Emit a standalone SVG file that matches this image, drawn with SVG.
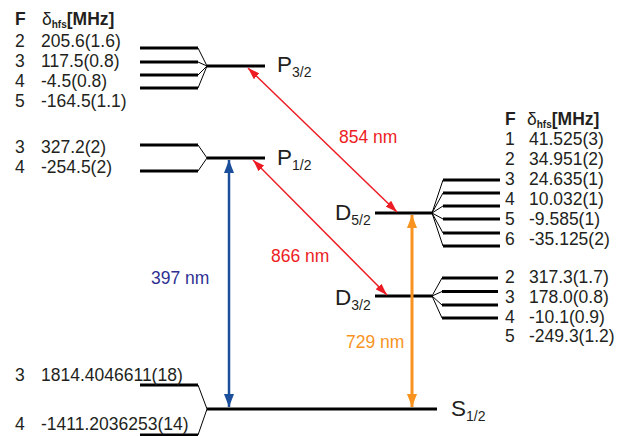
<svg xmlns="http://www.w3.org/2000/svg" width="623" height="436" viewBox="0 0 623 436">
<defs>
<style>
text{font-family:"Liberation Sans",Arial,sans-serif;fill:#231f20}
.t{font-size:17.5px}
.b{font-weight:bold}
.lab{font-size:22.5px}
.sub{font-size:14px}
.hs{font-size:10px;font-weight:bold}
.lv{stroke:#000;stroke-width:3;fill:none}
.fan{stroke:#000;stroke-width:1;fill:none}
.red{stroke:#ed1c24;stroke-width:1.5;fill:none}
.blue{stroke:#1b4f9c;stroke-width:2.5;fill:none}
.org{stroke:#f7931e;stroke-width:3;fill:none}
</style>
<marker id="ar" viewBox="0 0 12 8" refX="12" refY="4" markerWidth="12" markerHeight="8" markerUnits="userSpaceOnUse" orient="auto-start-reverse"><path d="M0,0L12,4L0,8z" fill="#ed1c24"/></marker>
<marker id="ab" viewBox="0 0 13 10" refX="13" refY="5" markerWidth="13" markerHeight="10" markerUnits="userSpaceOnUse" orient="auto-start-reverse"><path d="M0,0L13,5L0,10z" fill="#1b4f9c"/></marker>
<marker id="ao" viewBox="0 0 13 10" refX="13" refY="5" markerWidth="13" markerHeight="10" markerUnits="userSpaceOnUse" orient="auto-start-reverse"><path d="M0,0L13,5L0,10z" fill="#f7931e"/></marker>
</defs>

<g id="header-left">
<text class="t b" x="15" y="25">F</text>
<text class="t" x="42" y="25">δ<tspan class="hs" dy="2.5">hfs</tspan><tspan class="b" dy="-2.5">[MHz]</tspan></text>
</g>

<g id="P32">
<line class="lv" x1="140" y1="48" x2="198" y2="48"/>
<line class="lv" x1="140" y1="62" x2="198" y2="62"/>
<line class="lv" x1="140" y1="75" x2="198" y2="75"/>
<line class="lv" x1="140" y1="88" x2="198" y2="88"/>
<path class="fan" d="M198,48L207,66M198,62L207,66M198,75L207,66M198,88L207,66"/>
<line class="lv" x1="207" y1="66" x2="265" y2="66"/>
<text class="lab" x="277" y="72">P<tspan class="sub" dy="5">3/2</tspan></text>
<text class="t" x="15" y="47">2</text><text class="t" x="41" y="47">205.6(1.6)</text>
<text class="t" x="15" y="67">3</text><text class="t" x="41" y="67">117.5(0.8)</text>
<text class="t" x="15" y="87">4</text><text class="t" x="41" y="87">-4.5(0.8)</text>
<text class="t" x="15" y="107">5</text><text class="t" x="41" y="107">-164.5(1.1)</text>
</g>

<g id="P12">
<line class="lv" x1="140" y1="145" x2="198" y2="145"/>
<line class="lv" x1="140" y1="171" x2="198" y2="171"/>
<path class="fan" d="M198,145L207,158M198,171L207,158"/>
<line class="lv" x1="207" y1="158" x2="265" y2="158"/>
<text class="lab" x="277" y="165">P<tspan class="sub" dy="5">1/2</tspan></text>
<text class="t" x="15" y="153">3</text><text class="t" x="41" y="153">327.2(2)</text>
<text class="t" x="15" y="173">4</text><text class="t" x="41" y="173">-254.5(2)</text>
</g>

<g id="S12">
<line class="lv" x1="140" y1="385" x2="198" y2="385"/>
<line class="lv" x1="140" y1="435" x2="198" y2="435"/>
<path class="fan" d="M198,385L207,409M198,435L207,409"/>
<line class="lv" x1="207" y1="409" x2="437" y2="409"/>
<text class="lab" x="451" y="416">S<tspan class="sub" dy="5">1/2</tspan></text>
<text class="t" x="15" y="381">3</text><text class="t" x="41" y="381">1814.4046611(18)</text>
<text class="t" x="15" y="430">4</text><text class="t" x="41" y="430">-1411.2036253(14)</text>
</g>

<g id="header-right">
<text class="t b" x="505" y="125">F</text>
<text class="t" x="527" y="125">δ<tspan class="hs" dy="2.5">hfs</tspan><tspan class="b" dy="-2.5">[MHz]</tspan></text>
</g>

<g id="D52">
<line class="lv" x1="375" y1="213" x2="432" y2="213"/>
<path class="fan" d="M432,213L443,180M432,213L443,193M432,213L443,206M432,213L443,219M432,213L443,233M432,213L443,246"/>
<line class="lv" x1="443" y1="180" x2="500" y2="180"/>
<line class="lv" x1="443" y1="193" x2="500" y2="193"/>
<line class="lv" x1="443" y1="206" x2="500" y2="206"/>
<line class="lv" x1="443" y1="219" x2="500" y2="219"/>
<line class="lv" x1="443" y1="233" x2="500" y2="233"/>
<line class="lv" x1="443" y1="246" x2="500" y2="246"/>
<text class="lab" x="335" y="220">D<tspan class="sub" dy="5">5/2</tspan></text>
<text class="t" x="505" y="145">1</text><text class="t" x="529" y="145">41.525(3)</text>
<text class="t" x="505" y="165">2</text><text class="t" x="529" y="165">34.951(2)</text>
<text class="t" x="505" y="185">3</text><text class="t" x="529" y="185">24.635(1)</text>
<text class="t" x="505" y="205">4</text><text class="t" x="529" y="205">10.032(1)</text>
<text class="t" x="505" y="225">5</text><text class="t" x="529" y="225">-9.585(1)</text>
<text class="t" x="505" y="245">6</text><text class="t" x="529" y="245">-35.125(2)</text>
</g>

<g id="D32">
<line class="lv" x1="375" y1="296" x2="432" y2="296"/>
<path class="fan" d="M432,296L442,278M432,296L442,291.5M432,296L442,305M432,296L442,318"/>
<line class="lv" x1="442" y1="278" x2="498" y2="278"/>
<line class="lv" x1="442" y1="291.5" x2="498" y2="291.5"/>
<line class="lv" x1="442" y1="305" x2="498" y2="305"/>
<line class="lv" x1="442" y1="318" x2="498" y2="318"/>
<text class="lab" x="335" y="305">D<tspan class="sub" dy="5">3/2</tspan></text>
<text class="t" x="505" y="283">2</text><text class="t" x="529" y="283">317.3(1.7)</text>
<text class="t" x="505" y="303">3</text><text class="t" x="529" y="303">178.0(0.8)</text>
<text class="t" x="505" y="323">4</text><text class="t" x="529" y="323">-10.1(0.9)</text>
<text class="t" x="505" y="342">5</text><text class="t" x="529" y="342">-249.3(1.2)</text>
</g>

<g id="connectors">
<line class="red" x1="248" y1="68" x2="397" y2="212" marker-start="url(#ar)" marker-end="url(#ar)"/>
<line class="red" x1="253" y1="160" x2="387" y2="295" marker-start="url(#ar)" marker-end="url(#ar)"/>
<line class="blue" x1="229" y1="160" x2="229" y2="407" marker-start="url(#ab)" marker-end="url(#ab)"/>
<line class="org" x1="412" y1="215" x2="412" y2="407" marker-start="url(#ao)" marker-end="url(#ao)"/>
<text class="t" x="339" y="143" style="fill:#ed1c24">854 nm</text>
<text class="t" x="271" y="262" style="fill:#ed1c24">866 nm</text>
<text class="t" x="151" y="284" style="fill:#2e3192">397 nm</text>
<text class="t" x="346" y="348" style="fill:#f7931e">729 nm</text>
</g>
</svg>
